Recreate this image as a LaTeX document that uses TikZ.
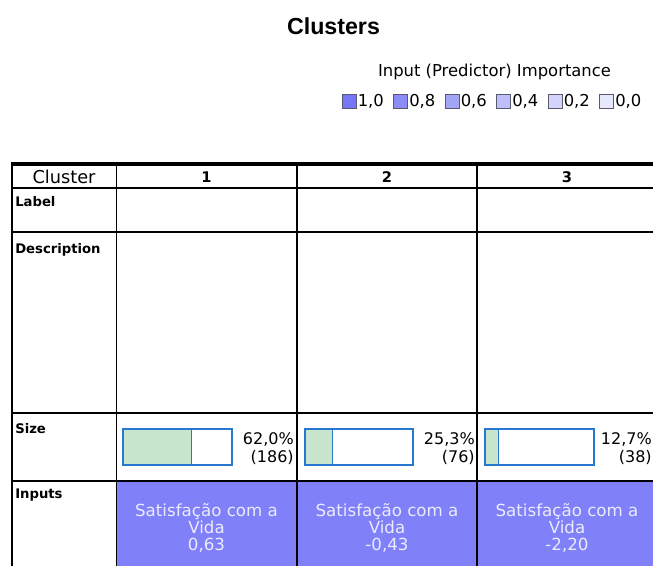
\documentclass[tikz,border=0pt]{standalone}
\usepackage{fontspec}
\setmainfont{DejaVu Sans}
\newfontfamily\titlefont{Liberation Sans}
\definecolor{barblue}{RGB}{40,120,210}
\definecolor{bargreen}{RGB}{200,230,205}
\definecolor{inpurple}{RGB}{128,128,248}
\definecolor{inputtext}{RGB}{235,235,255}
\definecolor{swborder}{RGB}{90,90,110}
\definecolor{swa}{RGB}{118,118,248}
\definecolor{swb}{RGB}{140,140,248}
\definecolor{swc}{RGB}{165,165,248}
\definecolor{swd}{RGB}{190,190,250}
\definecolor{swe}{RGB}{212,212,250}
\definecolor{swf}{RGB}{232,232,252}
\begin{document}
\begin{tikzpicture}[x=0.75pt,y=-0.75pt,
  grid/.style={draw=black,line width=1.1pt},
  rowlab/.style={font=\fontsize{9.9}{11}\selectfont\bfseries,anchor=north west,inner sep=0pt},
  colhead/.style={font=\fontsize{11}{12}\selectfont\bfseries,inner sep=0pt},
  pct/.style={font=\fontsize{12}{13}\selectfont,anchor=east,inner sep=0pt},
  sizebar/.style={draw=barblue,line width=1pt},
  inp/.style={font=\fontsize{12.5}{13.1}\selectfont,text=inputtext,align=center,inner sep=0pt},
  swatch/.style={draw=swborder,line width=0.6pt,minimum size=10.5pt,inner sep=0pt},
  legtxt/.style={font=\fontsize{12.3}{13}\selectfont,anchor=west,inner sep=0pt}
]
\useasboundingbox (0,0) rectangle (653,565);
\clip (0,0) rectangle (653,565);
\fill[white] (0,0) rectangle (653,565);

% title
\node[font=\titlefont\fontsize{17.4}{20}\selectfont\bfseries] (title) at (333.5,26) {Clusters};
\node[font=\fontsize{12.3}{14}\selectfont] (legtitle) at (494.5,72) {Input (Predictor) Importance};

% legend
\foreach \i/\c/\t in {0/swa/{1,0},1/swb/{0,8},2/swc/{0,6},3/swd/{0,4},4/swe/{0,2},5/swf/{0,0}}{
  \node[swatch,fill=\c] (sw\i) at ({349+51.5*\i},101) {};
  \node[legtxt] (lt\i) at ({357.5+51.5*\i},101) {\t};
}

% input row fills
\fill[inpurple] (116.5,481) rectangle (700,600);

% size bars
\fill[bargreen] (123,429) rectangle (191.5,465);
\draw[sizebar] (123,429) rectangle (232,465);
\draw[sizebar] (191.5,429) -- (191.5,465);
\fill[bargreen] (305,429) rectangle (332.3,465);
\draw[sizebar] (305,429) rectangle (413,465);
\draw[sizebar] (332.3,429) -- (332.3,465);
\fill[bargreen] (485,429) rectangle (498.8,465);
\draw[sizebar] (485,429) rectangle (594,465);
\draw[sizebar] (498.8,429) -- (498.8,465);

% grid
\draw[grid] (12,188) -- (700,188);
\draw[grid] (12,232) -- (700,232);
\draw[grid] (12,413) -- (700,413);
\draw[grid] (12,481) -- (700,481);
\draw[grid] (116.5,164) -- (116.5,600);
\draw[grid] (297,164) -- (297,600);
\draw[grid] (477,164) -- (477,600);
\draw[draw=black,line width=1.5pt] (12,163) -- (12,600);
\draw[draw=black,line width=2.3pt] (11.2,164) -- (700,164);

% headers
\node[font=\fontsize{13.3}{15}\selectfont] (hcluster) at (64,177) {Cluster};
\node[colhead] (h1) at (206.5,177) {1};
\node[colhead] (h2) at (387,177) {2};
\node[colhead] (h3) at (567,177) {3};

% row labels
\node[rowlab] (rlabel) at (15,196) {Label};
\node[rowlab] (rdesc) at (15,243) {Description};
\node[rowlab] (rsize) at (15,423) {Size};
\node[rowlab] (rinputs) at (15,489) {Inputs};

% size texts
\node[pct] (p1a) at (294,439) {62,0\%};
\node[pct] (p1b) at (294,457) {(186)};
\node[pct] (p2a) at (475,439) {25,3\%};
\node[pct] (p2b) at (475,457) {(76)};
\node[pct] (p3a) at (652,439) {12,7\%};
\node[pct] (p3b) at (652,457) {(38)};

% inputs texts
\node[inp] (in1) at (206.5,528) {Satisfação com a\\Vida\\0,63};
\node[inp] (in2) at (387,528) {Satisfação com a\\Vida\\-0,43};
\node[inp] (in3) at (567,528) {Satisfação com a\\Vida\\-2,20};
\end{tikzpicture}
\end{document}
